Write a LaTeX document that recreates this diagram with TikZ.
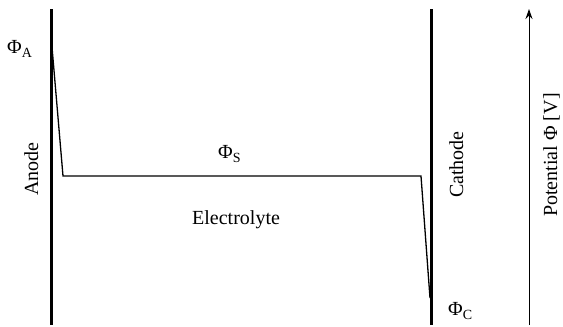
\documentclass[tikz,border=0pt]{standalone}
\usepackage{fontspec}
\setmainfont{Liberation Serif}
\usetikzlibrary{arrows.meta}
\tikzset{
  electrode/.style={line width=3pt},
  potline/.style={line width=1.3pt, line join=miter},
  axisarrow/.style={line width=1pt, -{Stealth[length=10pt,width=7pt]}},
  lbl/.style={inner sep=0pt, font=\fontsize{20}{24}\selectfont},
}
\begin{document}
\begin{tikzpicture}[x=1pt,y=-1pt]
\useasboundingbox (0,0) rectangle (563,327);
\coordinate (aT) at (51,9);
\coordinate (aB) at (51,325);
\coordinate (cT) at (431,9);
\coordinate (cB) at (431,325);
\coordinate (p1) at (52,47);
\coordinate (p2) at (63,176);
\coordinate (p3) at (421,176);
\coordinate (p4) at (430,298);
\coordinate (arB) at (529,325);
\coordinate (arT) at (529,9);
\draw[electrode] (aT) -- (aB);
\draw[electrode] (cT) -- (cB);
\draw[potline] (p1) -- (p2) -- (p3) -- (p4);
\draw[axisarrow] (arB) -- (arT);
\node[lbl, anchor=base west] (phiA) at (7,53) {Φ\raisebox{-4.5pt}{\fontsize{14}{14}\selectfont A}};
\node[lbl, anchor=base west] (phiS) at (218,158) {Φ\raisebox{-4.5pt}{\fontsize{14}{14}\selectfont S}};
\node[lbl, anchor=base west] (phiC) at (448,315) {Φ\raisebox{-4.5pt}{\fontsize{14}{14}\selectfont C}};
\node[lbl, anchor=base west] (elec) at (192,224) {Electrolyte};
\node[lbl, anchor=base west, rotate=90] (anode) at (38,196) {Anode};
\node[lbl, anchor=base west, rotate=90] (cathode) at (463,198) {Cathode};
\node[lbl, anchor=base west, rotate=90] (pot) at (557,217) {Potential Φ [V]};
\end{tikzpicture}
\end{document}
